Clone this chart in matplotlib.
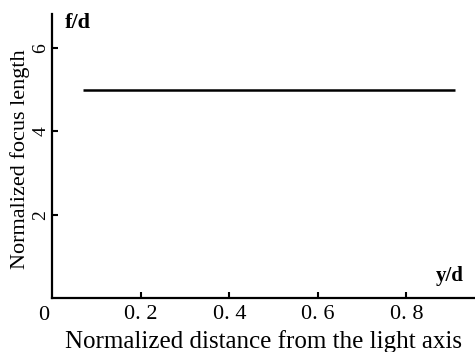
import matplotlib.pyplot as plt

# data
x_ticks = [0.2, 0.4, 0.6, 0.8]
x_tick_labels = ["0. 2", "0. 4", "0. 6", "0. 8"]
y_ticks = [2, 4, 6]
y_tick_labels = ["2", "4", "6"]
line_x = [0.07, 0.91]
line_y = [5, 5]

plt.rcParams["font.family"] = ["Liberation Serif", "DejaVu Serif"]

fig = plt.figure(figsize=(4.75, 3.52), dpi=100)
ax = fig.add_axes([0.11, 0.152, 0.89, 0.808])

ax.plot(line_x, line_y, color="black", linewidth=1.8, solid_capstyle="butt")

ax.set_xlim(0, 0.955)
ax.set_ylim(0, 6.81)
for side in ["top", "right"]:
    ax.spines[side].set_visible(False)
for side in ["left", "bottom"]:
    ax.spines[side].set_linewidth(1.6)

ax.set_xticks(x_ticks)
ax.set_xticklabels(x_tick_labels, fontsize=16)
ax.set_yticks(y_ticks)
ax.set_yticklabels(y_tick_labels, fontsize=14, rotation=90, va="center")
ax.tick_params(direction="in", length=4, width=1.5, pad=5)
ax.tick_params(axis="y", pad=2)

ax.text(-0.006, -0.026, "0", transform=ax.transAxes, ha="right", va="top", fontsize=16)
ax.text(0.03, 1.005, "f/d", transform=ax.transAxes, ha="left", va="top",
        fontsize=16, fontweight="bold")
ax.text(0.94, 0.045, "y/d", transform=ax.transAxes, ha="center", va="bottom",
        fontsize=15, fontweight="bold")

ax.set_xlabel("Normalized distance from the light axis", fontsize=18)
ax.set_ylabel("Normalized focus length", fontsize=16)
ax.xaxis.set_label_coords(0.5, -0.11)
ax.yaxis.set_label_coords(-0.052, 0.49)

fig.savefig("out.png", dpi=100)
